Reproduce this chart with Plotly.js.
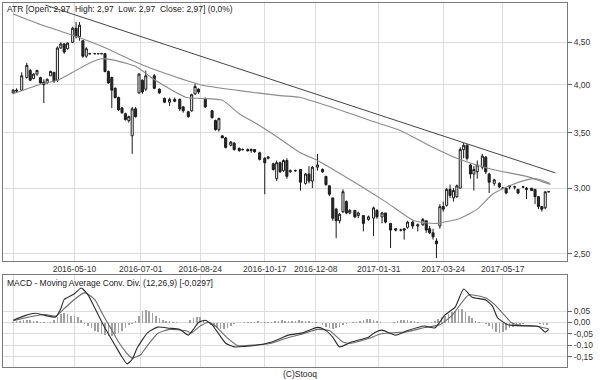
<!DOCTYPE html>
<html><head><meta charset="utf-8">
<script src="https://cdn.plot.ly/plotly-3.0.1.min.js"></script>
<style>html,body{margin:0;padding:0;background:#fff}#chart{width:600px;height:380px}</style>
</head><body><div id="chart"></div>
<script>
// trading-day index of each candle
const candleDay = [6,8,11,14,16,18,20,22,24,26, 28,30,32,34,36,38,41,43,45,47, 49,51,54,56,58,60,62,64,66,68,
  70,72,74,76,78,80,82,84,89,92, 95,98,101,104,106,109,111,113,115,119, 123,125,127,129,131,134,136,139,141,144,
  146,148,151,154,156,159,161,163,165,167, 169,172,175,178,180,182,185,188,190,192, 194,196,198,200,202,204,207,209,212,215,
  218,220,223,225,228,231,234,236,238,241, 244,247,249,251,253,255,257,259,261,263, 265,267,269,271,273,275,277,279,282,284,
  286,289,292,294,296,298,301,303,306,308, 311,313,315,317,319,321];
const candleOpen = [3.91,3.94,3.94,4.08,4.16,4.07,4.12,4.08,4.03,4.02, 4.10,4.14,4.05,4.43,4.48,4.42,4.50,4.68,4.57,4.52,
  4.33,4.36,4.36,4.36,4.36,4.36,4.15,4.08,3.96,3.86, 3.75,3.69,3.62,3.47,3.74,3.91,4.05,3.95,4.10,3.95,
  3.85,3.81,3.84,3.84,3.76,3.71,3.72,3.90,3.95,3.85, 3.72,3.62,3.53,3.47,3.45,3.38,3.40,3.35,3.34,3.34,
  3.33,3.34,3.31,3.26,3.26,3.21,3.08,3.22,3.15,3.24, 3.14,3.15,3.16,3.04,3.12,3.06,3.18,3.16,3.10,3.02,
  2.92,2.83,2.74,2.81,2.89,2.80,2.82,2.78,2.78,2.75, 2.76,2.82,2.77,2.80,2.72,2.68,2.67,2.68,2.69,2.73,
  2.70,2.71,2.74,2.68,2.65,2.59,2.70,2.85,2.86,2.99, 2.92,2.93,3.00,3.34,3.38,3.20,3.12,3.14,3.18,3.27,
  3.12,3.04,3.04,3.00,3.00,3.01,3.01,2.99,3.01,3.00, 3.00,2.99,2.93,2.85,2.84,2.97];
const candleHigh = [3.95,3.96,4.14,4.25,4.18,4.13,4.17,4.09,4.06,4.07, 4.16,4.14,4.45,4.50,4.49,4.50,4.70,4.76,4.76,4.53,
  4.44,4.37,4.36,4.36,4.37,4.37,4.16,4.09,3.97,3.87, 3.76,3.70,3.67,3.76,3.76,4.13,4.06,4.16,4.12,3.96,
  3.86,3.86,3.86,3.85,3.77,3.72,3.90,4.01,3.96,3.86, 3.73,3.63,3.65,3.47,3.46,3.42,3.41,3.36,3.35,3.35,
  3.35,3.34,3.32,3.27,3.28,3.22,3.24,3.23,3.25,3.26, 3.16,3.16,3.16,3.13,3.19,3.19,3.30,3.17,3.10,3.02,
  2.92,2.84,2.80,2.99,2.90,2.83,2.82,2.81,2.78,2.78, 2.85,2.83,2.81,2.80,2.72,2.68,2.68,2.68,2.74,2.74,
  2.72,2.76,2.74,2.70,2.68,2.61,2.87,2.89,3.00,3.03, 3.00,3.03,3.36,3.40,3.39,3.21,3.19,3.24,3.30,3.28,
  3.13,3.08,3.05,3.01,3.00,3.02,3.02,2.99,3.02,3.01, 3.00,2.99,2.93,2.85,2.97,2.97];
const candleLow = [3.90,3.91,3.93,4.07,4.04,4.06,4.10,4.01,3.80,4.01, 4.10,4.02,4.03,4.42,4.36,4.41,4.49,4.55,4.52,4.31,
  4.31,4.35,4.36,4.36,4.36,4.14,4.01,3.75,3.85,3.72, 3.69,3.62,3.60,3.30,3.65,3.90,3.90,3.93,3.95,3.90,
  3.80,3.77,3.81,3.72,3.70,3.65,3.71,3.89,3.90,3.75, 3.64,3.52,3.51,3.45,3.35,3.37,3.33,3.32,3.33,3.32,
  3.31,3.31,3.24,2.95,3.25,3.15,3.06,3.13,3.14,3.08, 3.13,3.14,2.98,3.03,3.04,3.00,3.15,3.13,3.02,2.935,
  2.74,2.61,2.72,2.80,2.79,2.79,2.76,2.76,2.66,2.74, 2.625,2.755,2.72,2.72,2.54,2.66,2.66,2.60,2.68,2.68,
  2.66,2.70,2.65,2.64,2.60,2.47,2.68,2.81,2.85,2.92, 2.89,2.92,3.00,3.26,3.24,3.08,2.98,3.08,3.16,3.12,
  2.96,3.02,3.00,2.99,2.95,2.99,2.99,2.95,3.00,2.91, 2.98,2.87,2.83,2.81,2.83,2.97];
const candleClose = [3.94,3.93,4.10,4.22,4.05,4.12,4.16,4.02,4.00,4.06, 4.15,4.04,4.43,4.48,4.38,4.49,4.68,4.57,4.72,4.33,
  4.42,4.36,4.36,4.36,4.36,4.15,4.02,3.94,3.86,3.73, 3.70,3.63,3.66,3.74,3.66,4.12,3.92,4.10,3.96,3.91,
  3.81,3.84,3.82,3.74,3.72,3.66,3.89,3.98,3.92,3.76, 3.65,3.53,3.64,3.45,3.36,3.41,3.34,3.33,3.34,3.33,
  3.34,3.32,3.25,3.22,3.27,3.16,3.22,3.14,3.24,3.10, 3.15,3.15,3.05,3.12,3.06,3.18,3.20,3.14,3.03,2.95,
  2.76,2.74,2.79,2.97,2.80,2.82,2.77,2.80,2.72,2.77, 2.84,2.77,2.80,2.73,2.67,2.67,2.67,2.67,2.73,2.70,
  2.71,2.75,2.67,2.65,2.62,2.57,2.85,2.83,2.99,2.94, 2.98,3.02,3.34,3.38,3.26,3.12,3.16,3.20,3.28,3.14,
  3.05,3.07,3.01,3.00,2.96,3.02,3.01,2.96,3.01,2.99, 2.98,2.93,2.85,2.83,2.97,2.97];

// moving averages and trend line
const longMaDay = [6,22,41,57,84,116,139,163,175,203,216,234,251,267,288,308,322];
const longMaVal = [4.87,4.73,4.59,4.46,4.21,4.00,3.935,3.88,3.86,3.70,3.62,3.52,3.375,3.26,3.16,3.10,3.03];
const shortMaDay = [6,23,32,41,51,58,66,79,88,108,117,129,139,149,163,175,185,209,225,242,255,269,279,288,298,308,314,322];
const shortMaVal = [3.90,4.01,4.05,4.14,4.25,4.30,4.28,4.20,4.07,3.86,3.85,3.83,3.69,3.59,3.44,3.31,3.24,3.03,2.89,2.74,2.72,2.76,2.83,2.95,3.02,3.07,3.08,3.04];
const trendDay = [25,325];
const trendVal = [4.99,3.13];

// MACD panel
const macdDay = [6,13,19,25,31,34,36,42,46,50, 54,60,66,70,73,76,79,85,91,98, 104,109,112,115,119,123,126,131,136,148,
  158,168,176,185,189,194,198,205,215,219, 223,231,238,248,254,260,266,271,276,284, 288,291,297,307,315,319,321];
const macdVal = [0.010,0.030,0.040,0.030,0.024,0.060,0.100,0.125,0.150,0.120, 0.063,-0.024,-0.100,-0.150,-0.180,-0.160,-0.110,-0.045,-0.020,-0.025,
  -0.030,-0.055,-0.030,0.000,0.010,-0.010,-0.040,-0.090,-0.106,-0.100, -0.085,-0.055,-0.045,-0.021,-0.030,-0.064,-0.106,-0.085,-0.064,-0.042,
  -0.033,-0.055,-0.035,-0.015,-0.024,0.033,0.067,0.146,0.110,0.098, 0.070,0.020,-0.010,-0.015,-0.017,-0.042,-0.030];
const signalDay = [6,16,25,31,36,42,48,54,58,63, 68,73,76,81,84,91,98,107,111,116, 121,125,131,138,148,158,168,176,185,192,
  200,205,215,222,229,238,248,257,264,274, 284,289,294,299,304,313,321];
const signalVal = [0.008,0.025,0.035,0.028,0.060,0.100,0.130,0.100,0.045,-0.020, -0.085,-0.135,-0.155,-0.140,-0.110,-0.048,-0.030,-0.035,-0.045,-0.015,
  0.000,-0.015,-0.060,-0.100,-0.098,-0.090,-0.065,-0.050,-0.030,-0.035, -0.085,-0.090,-0.070,-0.050,-0.045,-0.040,-0.022,-0.010,0.030,0.120,
  0.107,0.080,0.040,0.000,-0.012,-0.015,-0.027];
const histFirstDay = 6, histDayStep = 2;
const histVal = [0.004,0.006,0.008,0.010,0.012,0.010,0.008,0.006,0.004,0.002,
  -0.002,0.004,0.012,0.025,0.035,0.040,0.038,0.030,0.028,0.022,
  0.012,-0.005,-0.015,-0.025,-0.035,-0.042,-0.048,-0.055,-0.060,-0.058,
  -0.052,-0.045,-0.035,-0.025,-0.012,-0.005,0.008,0.030,0.050,0.056,
  0.052,0.042,0.030,0.020,0.012,0.008,0.005,0.003,0.002,0.000,
  -0.003,-0.002,0.010,0.018,0.025,0.022,0.012,0.002,-0.010,-0.020,
  -0.026,-0.030,-0.028,-0.022,-0.015,-0.008,-0.003,0.000,0.002,0.003,
  0.002,0.004,0.006,0.004,0.002,0.003,0.004,0.006,0.008,0.010,
  0.006,0.005,0.006,0.008,0.010,0.008,0.006,0.005,0.004,0.002,
  -0.004,-0.012,-0.018,-0.024,-0.028,-0.026,-0.020,-0.012,-0.005,0.000,
  0.002,0.002,0.006,0.010,0.014,0.016,0.012,0.008,0.004,-0.002,
  -0.004,-0.003,0.002,0.006,0.009,0.012,0.010,0.008,0.006,0.003,
  -0.002,-0.004,-0.003,0.002,0.008,0.014,0.022,0.030,0.038,0.045,
  0.052,0.060,0.058,0.045,0.030,0.018,0.008,0.003,0.000,-0.005,
  -0.015,-0.028,-0.040,-0.045,-0.042,-0.034,-0.026,-0.019,-0.014,-0.010,
  -0.006,-0.004,-0.003,-0.002,-0.002,-0.006,-0.010,-0.012];

// axis labels
const dateTickDay = [6,42,81,116,154,184,221,259,294];
const dateTickText = ['','2016-05-10','2016-07-01','2016-08-24','2016-10-17','2016-12-08','2017-01-31','2017-03-24','2017-05-17'];
const priceTicks = [2.5,3.0,3.5,4.0,4.5];
const priceTickText = ['2,50','3,00','3,50','4,00','4,50'];
const macdTicks = [-0.15,-0.10,-0.05,0,0.05];
const macdTickText = ['-0,15','-0,10','-0,05','0,00','0,05'];

const headerText = 'ATR [Open: 2,97\u00a0 High: 2,97\u00a0 Low: 2,97\u00a0 Close: 2,97] (0,0%)';
const macdText = 'MACD - Moving Average Conv. Div. (12,26,9) [-0,0297]';

const histDay = histVal.map((v, i) => histFirstDay + i * histDayStep);

const FONT = 'Liberation Sans, Arial, sans-serif';
const traces = [
  {type:'scatter', mode:'lines', x:longMaDay, y:longMaVal, xaxis:'x', yaxis:'y',
   line:{color:'#8a8a8a', width:1.1, shape:'spline', smoothing:0.6}, hoverinfo:'skip'},
  {type:'scatter', mode:'lines', x:shortMaDay, y:shortMaVal, xaxis:'x', yaxis:'y',
   line:{color:'#8a8a8a', width:1.1, shape:'spline', smoothing:0.6}, hoverinfo:'skip'},
  {type:'scatter', mode:'lines', x:trendDay, y:trendVal, xaxis:'x', yaxis:'y',
   line:{color:'#444444', width:1}, hoverinfo:'skip'},
  {type:'candlestick', x:candleDay, open:candleOpen, high:candleHigh, low:candleLow, close:candleClose,
   xaxis:'x', yaxis:'y', whiskerwidth:0,
   increasing:{line:{color:'#1a1a1a', width:1}, fillcolor:'#ffffff'},
   decreasing:{line:{color:'#1a1a1a', width:1}, fillcolor:'#2a2a2a'}, hoverinfo:'skip'},
  {type:'bar', x:histDay, y:histVal, xaxis:'x2', yaxis:'y2', width:0.9,
   marker:{color:'#a0a0a0', line:{width:0}}, hoverinfo:'skip'},
  {type:'scatter', mode:'lines', x:signalDay, y:signalVal, xaxis:'x2', yaxis:'y2',
   line:{color:'#6a6a6a', width:1.1, shape:'spline', smoothing:0.5}, hoverinfo:'skip'},
  {type:'scatter', mode:'lines', x:macdDay, y:macdVal, xaxis:'x2', yaxis:'y2',
   line:{color:'#2a2a2a', width:1.1, shape:'spline', smoothing:0.5}, hoverinfo:'skip'}
];

const grid = '#dcdcdc', border = '#7a7a7a';
const tickFont = {family:FONT, size:8.5, color:'#333'};
const layout = {
  width:600, height:380,
  margin:{l:3, r:33, t:3, b:13},
  paper_bgcolor:'#fff', plot_bgcolor:'#fff',
  showlegend:false, hovermode:false,
  boxgap:0.4, boxgroupgap:0,
  bargap:0,
  xaxis:{domain:[0,1], anchor:'y', range:[0,331.8], tickmode:'array', tickvals:dateTickDay, ticktext:dateTickText,
    showgrid:true, gridcolor:grid, gridwidth:1, zeroline:false, showline:true, mirror:true, linecolor:border, linewidth:1,
    ticks:'', tickfont:tickFont, rangeslider:{visible:false}, fixedrange:true},
  yaxis:{domain:[0.2912,1], anchor:'x', side:'right', type:'log', range:[Math.log10(2.45), Math.log10(5.02)],
    tickmode:'array', tickvals:priceTicks, ticktext:priceTickText, showgrid:true, gridcolor:grid, zeroline:false,
    showline:true, mirror:true, linecolor:border, linewidth:1, ticks:'outside', ticklen:4, tickcolor:'#666', tickfont:tickFont},
  xaxis2:{domain:[0,1], anchor:'y2', matches:'x', range:[0,331.8], tickmode:'array', tickvals:dateTickDay,
    showticklabels:false, showgrid:true, gridcolor:grid, zeroline:false, showline:true, mirror:true, linecolor:border, linewidth:1, ticks:''},
  yaxis2:{domain:[0,0.2527], anchor:'x2', side:'right', range:[-0.1935,0.2065],
    tickmode:'array', tickvals:macdTicks, ticktext:macdTickText, showgrid:true, gridcolor:grid, zeroline:false,
    showline:true, mirror:true, linecolor:border, linewidth:1, ticks:'outside', ticklen:4, tickcolor:'#666', tickfont:tickFont},
  annotations:[
    {xref:'paper', yref:'paper', x:0.0035, y:0.9835, xanchor:'left', yanchor:'middle', showarrow:false,
     text:headerText, font:{family:FONT, size:8.5, color:'#222'}},
    {xref:'paper', yref:'paper', x:0.0035, y:0.2308, xanchor:'left', yanchor:'middle', showarrow:false,
     text:macdText, font:{family:FONT, size:8.5, color:'#222'}},
    {xref:'paper', yref:'paper', x:0.5266, y:-0.0192, xanchor:'center', yanchor:'middle', showarrow:false,
     text:'(C)Stooq', font:{family:FONT, size:8.5, color:'#222'}}
  ]
};
Plotly.newPlot('chart', traces, layout, {staticPlot:true, displayModeBar:false});
</script>
</body></html>
